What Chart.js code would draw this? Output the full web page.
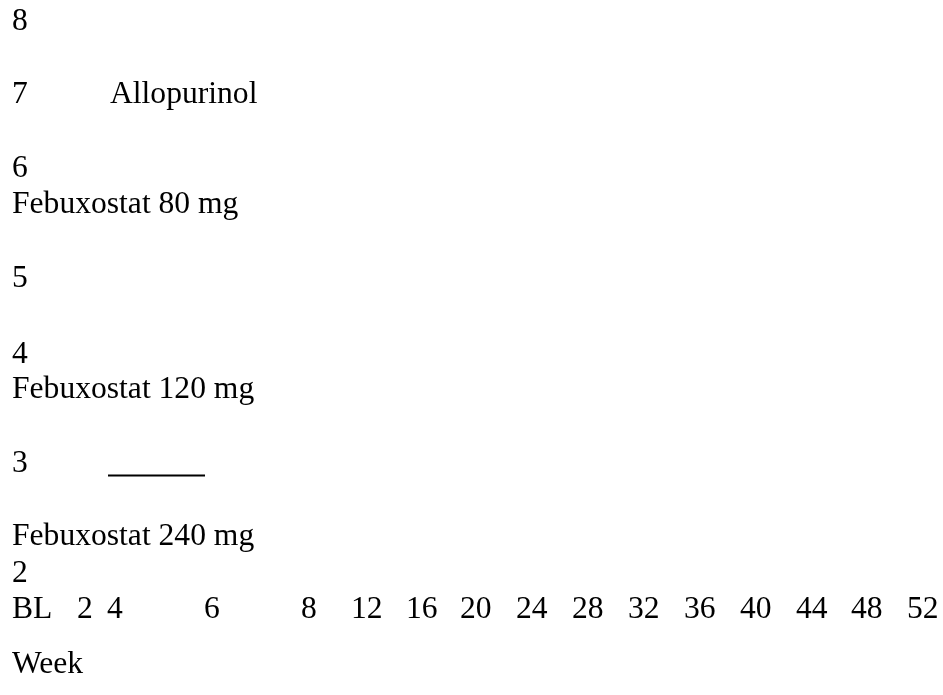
<!DOCTYPE html>
<html>
<head>
<meta charset="utf-8">
<script src="https://cdn.jsdelivr.net/npm/chart.js@4.4.1/dist/chart.umd.min.js"></script>
<style>
  html, body { margin: 0; padding: 0; background: #ffffff; }
  #wrap { width: 943px; height: 695px; position: relative; }
  canvas { display: block; }
</style>
</head>
<body>
<div id="wrap"><canvas id="c" width="943" height="695"></canvas></div>
<script>
// ---- data ----
const weekLabels = ['BL', '2', '4', '6', '8', '12', '16', '20', '24', '28', '32', '36', '40', '44', '48', '52'];
const yTickLabels = ['8', '7', '6', '5', '4', '3', '2'];
const seriesNames = ['Allopurinol', 'Febuxostat 80 mg', 'Febuxostat 120 mg', 'Febuxostat 240 mg'];
const xAxisTitle = 'Week';
const refLineWeeks = [4, 6];
const refLineValues = [3, 3];

// ---- layout (text positions: left x, baseline y) ----
const layout = {
  font: '31.6px "Liberation Serif", "Times New Roman", serif',
  yTickX: 12,
  yTickBaselines: [30, 103, 177, 287, 363, 472, 582],
  seriesPos: [[110, 103], [12, 213], [12, 398], [12, 545]],
  xTickBaseline: 618,
  xTickLeft: [12, 77, 107, 204, 301, 351, 406, 460, 516, 572, 628, 684, 740, 796, 851, 907],
  xTitlePos: [12, 673],
  xRange: [1.773, 21.216],
  yRange: [0.5905, 8.2195]
};

const textPlugin = {
  id: 'textLayer',
  afterDraw(chart) {
    const ctx = chart.ctx;
    ctx.save();
    ctx.font = layout.font;
    ctx.fillStyle = '#000000';
    ctx.textBaseline = 'alphabetic';
    ctx.textAlign = 'left';
    yTickLabels.forEach((t, i) => ctx.fillText(t, layout.yTickX, layout.yTickBaselines[i]));
    seriesNames.forEach((t, i) => ctx.fillText(t, layout.seriesPos[i][0], layout.seriesPos[i][1]));
    weekLabels.forEach((t, i) => ctx.fillText(t, layout.xTickLeft[i], layout.xTickBaseline));
    ctx.fillText(xAxisTitle, layout.xTitlePos[0], layout.xTitlePos[1]);
    ctx.restore();
  }
};

new Chart(document.getElementById('c'), {
  type: 'line',
  data: {
    datasets: [{
      label: 'reference',
      data: refLineWeeks.map((w, i) => ({ x: w, y: refLineValues[i] })),
      borderColor: '#000000',
      borderWidth: 2,
      pointRadius: 0,
      fill: false,
      tension: 0
    }]
  },
  options: {
    responsive: false,
    animation: false,
    devicePixelRatio: 1,
    layout: { padding: 0 },
    plugins: { legend: { display: false }, tooltip: { enabled: false } },
    scales: {
      x: { type: 'linear', display: false, min: layout.xRange[0], max: layout.xRange[1] },
      y: { type: 'linear', display: false, min: layout.yRange[0], max: layout.yRange[1] }
    }
  },
  plugins: [textPlugin]
});
</script>
</body>
</html>
